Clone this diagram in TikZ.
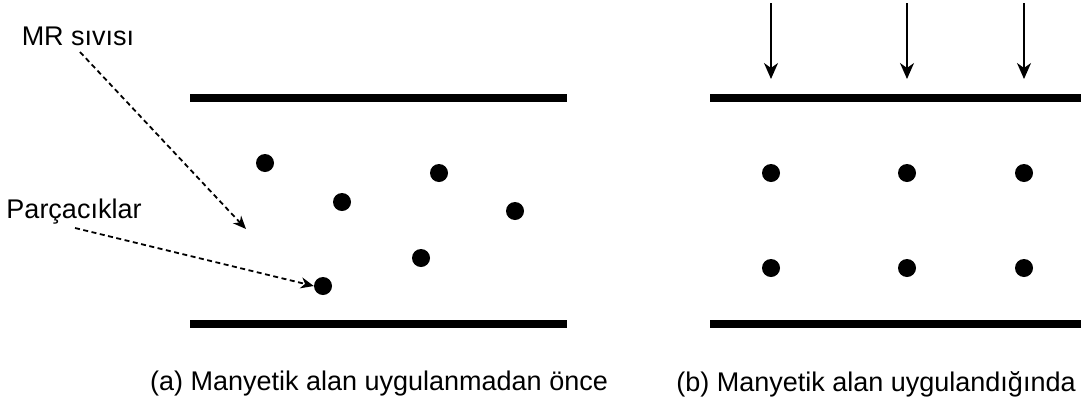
\documentclass[tikz,border=0pt]{standalone}
\usepackage{fontspec}
\setmainfont{Liberation Sans}
\usetikzlibrary{arrows.meta}
\begin{document}
\begin{tikzpicture}[x=1pt,y=-1pt,
  plate/.style={line width=8pt},
  particle/.style={circle,fill=black,inner sep=0pt,minimum size=18pt},
  lbl/.style={font=\fontsize{27}{31}\selectfont,inner sep=0pt},
  pointer/.style={dashed,line width=1.8pt,dash pattern=on 5pt off 3.5pt,-{Stealth[length=13pt,width=11pt,inset=4pt]}},
  field/.style={line width=1.6pt,-{Stealth[length=16pt,width=14pt,inset=5pt]}}]
\useasboundingbox (0,0) rectangle (1081,405);
% left panel plates
\coordinate (lt1) at (190,98); \coordinate (lt2) at (567,98);
\coordinate (lb1) at (190,324); \coordinate (lb2) at (567,324);
\draw[plate] (lt1) -- (lt2);
\draw[plate] (lb1) -- (lb2);
% right panel plates
\coordinate (rt1) at (710,98); \coordinate (rt2) at (1081,98);
\coordinate (rb1) at (710,324); \coordinate (rb2) at (1081,324);
\draw[plate] (rt1) -- (rt2);
\draw[plate] (rb1) -- (rb2);
% left particles
\node[particle] (p1) at (265,163) {};
\node[particle] (p2) at (342,202) {};
\node[particle] (p3) at (439,173) {};
\node[particle] (p4) at (515,211) {};
\node[particle] (p5) at (421,258) {};
\node[particle] (p6) at (323,286) {};
% right particles
\node[particle] (q1) at (771,173) {};
\node[particle] (q2) at (907,173) {};
\node[particle] (q3) at (1024,173) {};
\node[particle] (q4) at (771,268) {};
\node[particle] (q5) at (907,268) {};
\node[particle] (q6) at (1024,268) {};
% labels
\node[lbl] (mr) at (78,36) {MR sıvısı};
\node[lbl] (pc) at (74,212) {Parçacıklar};
\coordinate (fluid) at (246,229);
\draw[pointer] (80,52) -- (fluid);
\draw[pointer] (75,228) -- (p6.west);
% field arrows
\coordinate (a1s) at (771,3); \coordinate (a1e) at (771,79);
\coordinate (a2s) at (907,3); \coordinate (a2e) at (907,79);
\coordinate (a3s) at (1024,3); \coordinate (a3e) at (1024,79);
\draw[field] (a1s) -- (a1e);
\draw[field] (a2s) -- (a2e);
\draw[field] (a3s) -- (a3e);
% captions
\node[lbl] (capa) at (379,384) {(a) Manyetik alan uygulanmadan önce};
\node[lbl] (capb) at (876,384) {(b) Manyetik alan uygulandığında};
\end{tikzpicture}
\end{document}
